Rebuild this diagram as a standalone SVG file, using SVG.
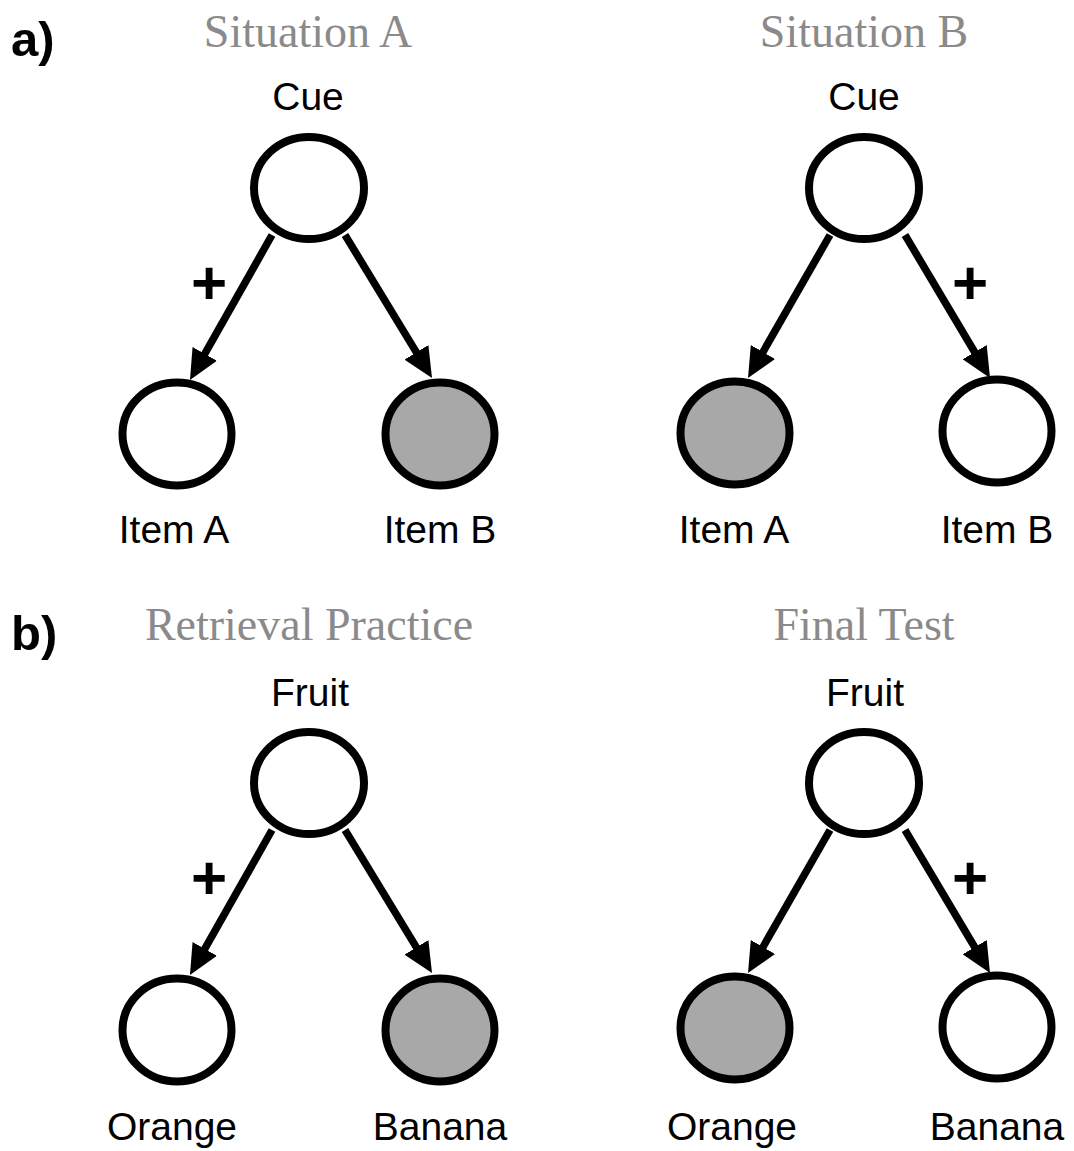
<svg xmlns="http://www.w3.org/2000/svg" width="1074" height="1151" viewBox="0 0 1074 1151">
  <style>
    .panel { font-family: "Liberation Sans", Arial, sans-serif; font-size: 49px; font-weight: bold; fill: #000; }
    .title { font-family: "Liberation Serif", "Times New Roman", serif; font-size: 46px; fill: #8a8a8a; text-anchor: middle; }
    .label { font-family: "Liberation Sans", Arial, sans-serif; font-size: 39px; fill: #000; text-anchor: middle; }
    .plus { font-family: "Liberation Sans", Arial, sans-serif; font-size: 62px; font-weight: bold; fill: #000; text-anchor: middle; }
    .node { stroke: #000; stroke-width: 8; fill: #fff; }
    .node.off { fill: #a8a8a8; }
    .edge { stroke: #000; stroke-width: 7.5; fill: none; marker-end: url(#head); }
  </style>
  <defs>
    <marker id="head" viewBox="0 0 30 28" refX="19" refY="14" markerWidth="30" markerHeight="28" markerUnits="userSpaceOnUse" orient="auto">
      <path d="M0,0 L30,14 L0,28 z" fill="#000"/>
    </marker>
  </defs>
  <rect width="1074" height="1151" fill="#fff"/>

  <!-- panel letters and headings -->
  <text class="panel" x="11" y="56">a)</text>
  <text class="panel" x="11" y="650">b)</text>
  <text class="title" x="308" y="47">Situation A</text>
  <text class="title" x="864" y="47">Situation B</text>
  <text class="title" x="309" y="640">Retrieval Practice</text>
  <text class="title" x="864" y="640">Final Test</text>

  <!-- connectors: arrow lines stop short, the marker tip lands on the leaf outline -->
  <g id="connectors">
    <line class="edge" x1="272" y1="235" x2="195.4" y2="370.4"/>
    <line class="edge" x1="345" y1="235" x2="426.3" y2="368.6"/>
    <line class="edge" x1="830" y1="235" x2="753.5" y2="368.5"/>
    <line class="edge" x1="905" y1="235" x2="984.4" y2="368.5"/>
    <line class="edge" x1="272" y1="830" x2="195.4" y2="965.4"/>
    <line class="edge" x1="345" y1="830" x2="426.3" y2="963.6"/>
    <line class="edge" x1="830" y1="830" x2="753.5" y2="963.5"/>
    <line class="edge" x1="905" y1="830" x2="984.4" y2="963.5"/>
    <text class="plus" x="209" y="304">+</text>
    <text class="plus" x="970" y="304">+</text>
    <text class="plus" x="209" y="899">+</text>
    <text class="plus" x="970" y="899">+</text>
  </g>

  <!-- situation A -->
  <g id="a-cue">
    <ellipse class="node" cx="309" cy="188" rx="55" ry="51"/>
    <text class="label" x="308" y="110">Cue</text>
  </g>
  <g id="a-item-a">
    <ellipse class="node" cx="177" cy="434" rx="54.5" ry="51.5"/>
    <text class="label" x="174" y="543">Item A</text>
  </g>
  <g id="a-item-b">
    <ellipse class="node off" cx="440" cy="434" rx="54.5" ry="51.5"/>
    <text class="label" x="440" y="543">Item B</text>
  </g>

  <!-- situation B -->
  <g id="b-cue">
    <ellipse class="node" cx="864" cy="188" rx="55" ry="51"/>
    <text class="label" x="864" y="110">Cue</text>
  </g>
  <g id="b-item-a">
    <ellipse class="node off" cx="735" cy="433" rx="54.5" ry="51.5"/>
    <text class="label" x="734" y="543">Item A</text>
  </g>
  <g id="b-item-b">
    <ellipse class="node" cx="997" cy="431" rx="54.5" ry="51.5"/>
    <text class="label" x="997" y="543">Item B</text>
  </g>

  <!-- retrieval practice -->
  <g id="rp-fruit">
    <ellipse class="node" cx="309" cy="783" rx="55" ry="51"/>
    <text class="label" x="310" y="706">Fruit</text>
  </g>
  <g id="rp-orange">
    <ellipse class="node" cx="177" cy="1030" rx="54.5" ry="51.5"/>
    <text class="label" x="172" y="1140">Orange</text>
  </g>
  <g id="rp-banana">
    <ellipse class="node off" cx="440" cy="1030" rx="54.5" ry="51.5"/>
    <text class="label" x="440" y="1140">Banana</text>
  </g>

  <!-- final test -->
  <g id="ft-fruit">
    <ellipse class="node" cx="864" cy="783" rx="55" ry="51"/>
    <text class="label" x="865" y="706">Fruit</text>
  </g>
  <g id="ft-orange">
    <ellipse class="node off" cx="735" cy="1028" rx="54.5" ry="51.5"/>
    <text class="label" x="732" y="1140">Orange</text>
  </g>
  <g id="ft-banana">
    <ellipse class="node" cx="997" cy="1027" rx="54.5" ry="51.5"/>
    <text class="label" x="997" y="1140">Banana</text>
  </g>
</svg>
